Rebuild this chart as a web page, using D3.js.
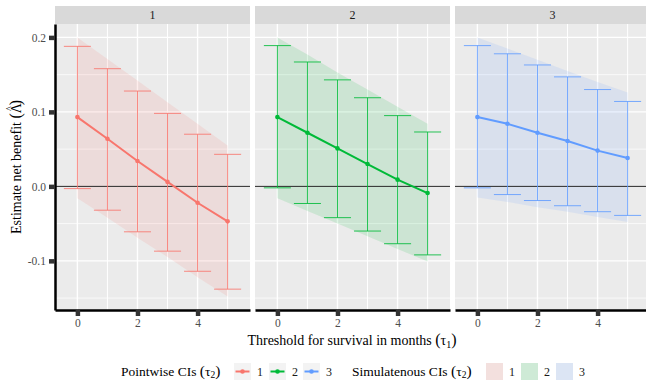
<!DOCTYPE html>
<html>
<head>
<meta charset="utf-8">
<script src="https://cdn.jsdelivr.net/npm/d3@7"></script>
<style>
  body { margin: 0; background: #fff; }
  svg, svg text { font-family: "Liberation Serif", "DejaVu Serif", serif !important; }
</style>
</head>
<body>
<div id="chart"></div>
<script>
// values, one row per tau2 group
const thresholds = [0, 1, 2, 3, 4, 5];
const groups = ["1", "2", "3"];
const estimates = [
  [0.093, 0.064, 0.034, 0.006, -0.022, -0.047],
  [0.093, 0.072, 0.051, 0.030, 0.009, -0.009],
  [0.093, 0.084, 0.072, 0.061, 0.048, 0.038]
];
const pointwiseUpper = [
  [0.188, 0.158, 0.128, 0.098, 0.070, 0.043],
  [0.189, 0.167, 0.143, 0.119, 0.095, 0.073],
  [0.189, 0.178, 0.163, 0.147, 0.130, 0.114]
];
const pointwiseLower = [
  [-0.003, -0.032, -0.061, -0.087, -0.114, -0.138],
  [-0.002, -0.023, -0.042, -0.060, -0.077, -0.092],
  [-0.002, -0.011, -0.019, -0.026, -0.034, -0.039]
];
const simUpper = [
  [0.200, 0.171, 0.142, 0.113, 0.084, 0.055],
  [0.200, 0.177, 0.153, 0.130, 0.107, 0.084],
  [0.200, 0.185, 0.170, 0.155, 0.140, 0.126]
];
const simLower = [
  [-0.016, -0.042, -0.069, -0.095, -0.122, -0.148],
  [-0.016, -0.033, -0.050, -0.067, -0.084, -0.101],
  [-0.015, -0.021, -0.028, -0.034, -0.041, -0.048]
];
const yTicks = [-0.1, 0, 0.1, 0.2];
const xTicks = [0, 2, 4];

const colors = ["#F8766D", "#00BA38", "#619CFF"];

////////////////////////////////////////////////////////////////////////////////////

const width = 646;
const height = 381;
const panelLefts = [55, 255, 455];
const panelWidth = 195;
const panelTop = 24;
const panelBottom = 310;
const tickColor = "#4d4d4d";

const svg = d3.select("#chart").append("svg").attr("width", width).attr("height", height);

const x = d3.scaleLinear().domain([-0.745, 5.745]).range([0, panelWidth]);
const y = d3.scaleLinear().domain([-0.166, 0.218]).range([panelBottom, panelTop]);

const line = d3.line().x((d, i) => x(thresholds[i])).y((d) => y(d));

function styleAxis(axis) {
  axis.attr("font-family", null).attr("font-size", null);
  axis.select(".domain").attr("stroke", "#000").attr("stroke-width", 2.5);
  axis.selectAll(".tick line").attr("stroke", "#333").attr("stroke-width", 4.5);
  axis.selectAll(".tick text").attr("fill", tickColor).attr("font-size", 11.5);
}

////////////////////////////////////////////////////////////////////////////////////

groups.forEach((g, gi) => {
  const color = colors[gi];
  const panel = svg.append("g").attr("transform", `translate(${panelLefts[gi]},0)`);

  // strip
  panel.append("rect").attr("x", 0).attr("y", 6).attr("width", panelWidth).attr("height", panelTop - 6).attr("fill", "#d9d9d9");
  panel
    .append("text")
    .attr("x", panelWidth / 2)
    .attr("y", 15)
    .attr("dy", "0.35em")
    .attr("text-anchor", "middle")
    .attr("font-size", 12)
    .attr("fill", "#1a1a1a")
    .text(g);

  // background + grid
  panel.append("rect").attr("x", 0).attr("y", panelTop).attr("width", panelWidth).attr("height", panelBottom - panelTop).attr("fill", "#ebebeb");

  panel
    .selectAll("line.hgrid")
    .data([-0.15, -0.1, -0.05, 0, 0.05, 0.1, 0.15, 0.2])
    .enter()
    .append("line")
    .attr("x1", 0)
    .attr("x2", panelWidth)
    .attr("y1", (d) => y(d))
    .attr("y2", (d) => y(d))
    .attr("stroke", "#fff")
    .attr("stroke-width", (d, i) => (i % 2 ? 1.1 : 0.7));

  panel
    .selectAll("line.vgrid")
    .data(thresholds)
    .enter()
    .append("line")
    .attr("x1", (d) => x(d))
    .attr("x2", (d) => x(d))
    .attr("y1", panelTop)
    .attr("y2", panelBottom)
    .attr("stroke", "#fff")
    .attr("stroke-width", (d) => (d % 2 ? 1 : 1.4));

  // simultaneous band
  const area = d3
    .area()
    .x((d, i) => x(thresholds[i]))
    .y0((d, i) => y(simLower[gi][i]))
    .y1((d) => y(d));
  panel.append("path").datum(simUpper[gi]).attr("d", area).attr("fill", color).attr("fill-opacity", 0.13);

  // zero line
  panel
    .append("line")
    .attr("x1", 0)
    .attr("x2", panelWidth)
    .attr("y1", y(0))
    .attr("y2", y(0))
    .attr("stroke", "#222")
    .attr("stroke-width", 1);

  // pointwise error bars
  const bars = panel.append("g").attr("stroke", color).attr("stroke-width", 1).attr("stroke-opacity", 0.85);
  const half = x(0.45) - x(0);
  thresholds.forEach((t, i) => {
    const cx = x(t);
    bars.append("line").attr("x1", cx).attr("x2", cx).attr("y1", y(pointwiseLower[gi][i])).attr("y2", y(pointwiseUpper[gi][i]));
    bars.append("line").attr("x1", cx - half).attr("x2", cx + half).attr("y1", y(pointwiseLower[gi][i])).attr("y2", y(pointwiseLower[gi][i]));
    bars.append("line").attr("x1", cx - half).attr("x2", cx + half).attr("y1", y(pointwiseUpper[gi][i])).attr("y2", y(pointwiseUpper[gi][i]));
  });

  // estimate line + points
  panel.append("path").datum(estimates[gi]).attr("d", line).attr("fill", "none").attr("stroke", color).attr("stroke-width", 2);
  panel
    .selectAll("circle")
    .data(estimates[gi])
    .enter()
    .append("circle")
    .attr("cx", (d, i) => x(thresholds[i]))
    .attr("cy", (d) => y(d))
    .attr("r", 2.3)
    .attr("fill", color);

  // axes
  const xAxis = panel
    .append("g")
    .attr("transform", `translate(0,${panelBottom})`)
    .call(d3.axisBottom(x).tickValues(xTicks).tickSize(6).tickSizeOuter(0).tickPadding(3).tickFormat(d3.format("d")));
  styleAxis(xAxis);

  if (gi === 0) {
    const yAxis = panel
      .append("g")
      .call(d3.axisLeft(y).tickValues(yTicks).tickSize(6).tickSizeOuter(0).tickPadding(3).tickFormat((d) => d.toFixed(1)));
    styleAxis(yAxis);
  }
});

////////////////////////////////////////////////////////////////////////////////////

// axis titles
const xTitle = svg
  .append("text")
  .attr("x", 352)
  .attr("y", 345)
  .attr("text-anchor", "middle")
  .attr("font-size", 14)
  .attr("fill", "#000");
xTitle.append("tspan").text("Threshold for survival in months  ");
xTitle.append("tspan").attr("font-size", 16).text("(");
xTitle.append("tspan").text("τ");
xTitle.append("tspan").attr("font-size", 10).attr("dy", 3).text("1");
xTitle.append("tspan").attr("font-size", 16).attr("dy", -3).text(")");

const yTitle = svg
  .append("text")
  .attr("transform", `translate(21,${(panelTop + panelBottom) / 2}) rotate(-90)`)
  .attr("text-anchor", "middle")
  .attr("font-size", 14)
  .attr("fill", "#000");
yTitle.append("tspan").text("Estimate net benefit  ");
yTitle.append("tspan").attr("font-size", 16).text("(");
yTitle.append("tspan").text("Λ");
yTitle.append("tspan").attr("font-size", 10).attr("dx", -8).attr("dy", -8).text("^");
yTitle.append("tspan").attr("font-size", 16).attr("dx", 1).attr("dy", 8).text(")");

// legends
const legendY = 371.5;

function legendTitle(x0, label) {
  const t = svg.append("text").attr("x", x0).attr("y", legendY).attr("dy", "0.33em").attr("font-size", 13.5).attr("fill", "#000");
  t.append("tspan").text(label + "  ");
  t.append("tspan").attr("font-size", 15.5).text("(");
  t.append("tspan").text("τ");
  t.append("tspan").attr("font-size", 9.5).attr("dy", 2.5).text("2");
  t.append("tspan").attr("font-size", 15.5).attr("dy", -2.5).text(")");
}

legendTitle(121, "Pointwise CIs");
legendTitle(352, "Simulatenous CIs");

const pointKeys = [234, 269, 303];
const fillKeys = [486, 521, 556];

groups.forEach((g, gi) => {
  const kx = pointKeys[gi];
  svg.append("rect").attr("x", kx).attr("y", legendY - 8.5).attr("width", 17).attr("height", 17).attr("fill", "#f3f3f3");
  svg.append("line").attr("x1", kx + 1.5).attr("x2", kx + 15.5).attr("y1", legendY).attr("y2", legendY).attr("stroke", colors[gi]).attr("stroke-width", 2);
  svg.append("circle").attr("cx", kx + 8.5).attr("cy", legendY).attr("r", 2.3).attr("fill", colors[gi]);
  svg.append("text").attr("x", kx + 23).attr("y", legendY).attr("dy", "0.35em").attr("font-size", 12).attr("fill", "#1a1a1a").text(g);

  const fx = fillKeys[gi];
  svg.append("rect").attr("x", fx).attr("y", legendY - 8.5).attr("width", 17).attr("height", 17).attr("fill", "#f3f3f3");
  svg.append("rect").attr("x", fx).attr("y", legendY - 8.5).attr("width", 17).attr("height", 17).attr("fill", colors[gi]).attr("fill-opacity", 0.15);
  svg.append("text").attr("x", fx + 23).attr("y", legendY).attr("dy", "0.35em").attr("font-size", 12).attr("fill", "#1a1a1a").text(g);
});
</script>
</body>
</html>
